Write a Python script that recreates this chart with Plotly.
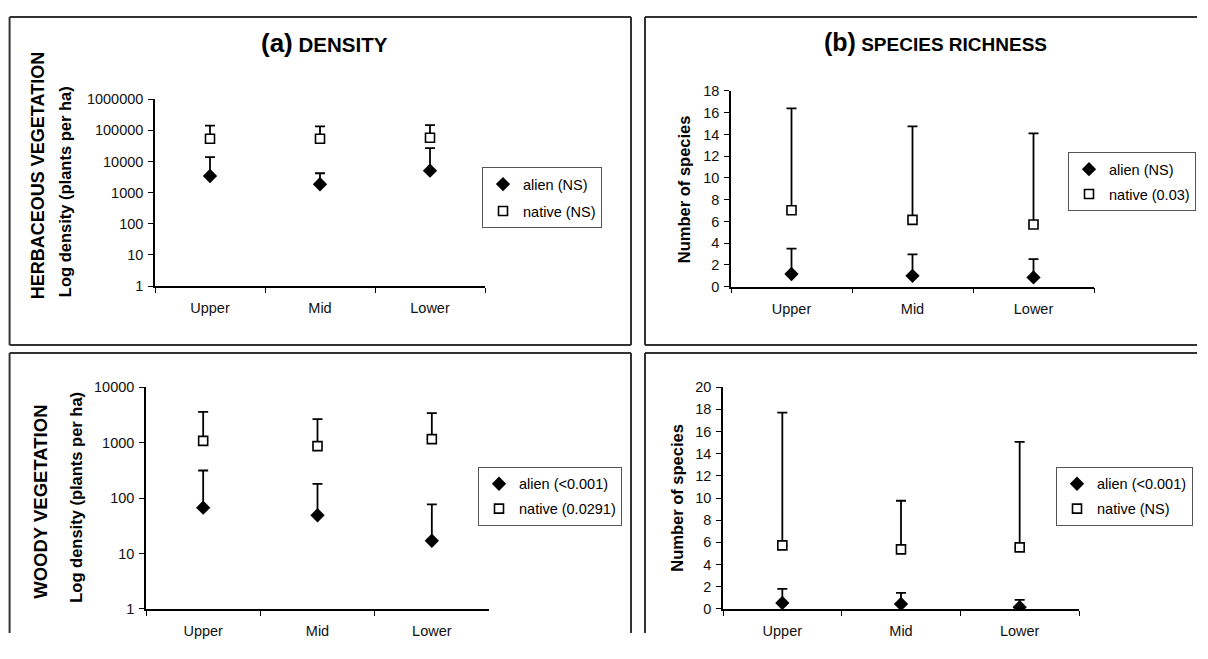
import plotly.graph_objects as go

# Window-pixel placement helpers (empirically calibrated for the capture):
# rendered_x = x_fig + 8 ; rendered_y = SY * (y_fig + 16)
OX, OY, SY = 8, 16, 0.976
W, H = 1190, 634
FONT = "Liberation Sans, Arial, sans-serif"

zones = ["Upper", "Mid", "Lower"]

# (a) Density, herbaceous
herb_den_alien = [3430, 1860, 5100]
herb_den_alien_err = [13800, 4200, 27000]   # upper end of error bar
herb_den_native = [54000, 54000, 58000]
herb_den_native_err = [142000, 134000, 148000]

# (b) Species richness, herbaceous
herb_sr_alien = [1.17, 1.0, 0.86]
herb_sr_alien_err = [3.5, 2.97, 2.54]
herb_sr_native = [7.04, 6.15, 5.73]
herb_sr_native_err = [16.4, 14.75, 14.1]

# (a) Density, woody
wood_den_alien = [67, 49, 17]
wood_den_alien_err = [314, 181, 77]
wood_den_native = [1075, 865, 1157]
wood_den_native_err = [3590, 2650, 3400]

# (b) Species richness, woody
wood_sr_alien = [0.54, 0.45, 0.15]
wood_sr_alien_err = [1.8, 1.44, 0.81]
wood_sr_native = [5.73, 5.37, 5.55]
wood_sr_native_err = [17.7, 9.76, 15.07]

legend_labels = [
    ("alien (NS)", "native (NS)"),
    ("alien (NS)", "native (0.03)"),
    ("alien (<0.001)", "native (0.0291)"),
    ("alien (<0.001)", "native (NS)"),
]

log_ticks = [1, 10, 100, 1000, 10000, 100000, 1000000]
log_ticktext = ["1", "10", "100", "1000", "10000", "100000", "1000000"]


def px(x):
    return (x - OX) / W


def py(y):
    yf = y / SY - OY
    return 1 - yf / H


fig = go.Figure()

panels = [
    (herb_den_alien, herb_den_alien_err, herb_den_native, herb_den_native_err),
    (herb_sr_alien, herb_sr_alien_err, herb_sr_native, herb_sr_native_err),
    (wood_den_alien, wood_den_alien_err, wood_den_native, wood_den_native_err),
    (wood_sr_alien, wood_sr_alien_err, wood_sr_native, wood_sr_native_err),
]

for i, (a, ae, n, ne) in enumerate(panels):
    idx = "" if i == 0 else str(i + 1)
    xa, ya = "x" + idx, "y" + idx
    leg = "legend" + idx
    a_plus = [t - v for t, v in zip(ae, a)]
    n_plus = [t - v for t, v in zip(ne, n)]
    fig.add_trace(go.Scatter(
        x=zones, y=a, mode="markers", name=legend_labels[i][0],
        xaxis=xa, yaxis=ya, legend=leg, legendgroup="a" + idx,
        marker=dict(symbol="diamond", size=11, color="black"),
        error_y=dict(type="data", symmetric=False, array=a_plus,
                     arrayminus=[0, 0, 0], color="black", thickness=1.8, width=5),
    ))
    fig.add_trace(go.Scatter(
        x=zones, y=n, mode="markers", name=legend_labels[i][1],
        xaxis=xa, yaxis=ya, legend=leg, legendgroup="n" + idx,
        marker=dict(symbol="square", size=9, color="white",
                    line=dict(color="black", width=1.6)),
        error_y=dict(type="data", symmetric=False, array=n_plus,
                     arrayminus=[0, 0, 0], color="black", thickness=1.8, width=5),
    ))

axis_common = dict(showline=True, linecolor="black", linewidth=1.5,
                   showgrid=False, zeroline=False, ticks="outside", ticklen=5,
                   tickcolor="black", tickwidth=1.2,
                   tickfont=dict(family=FONT, size=14.5, color="#111"))

# plot-area geometry in window pixels: (x0, x1, ytop, ybottom)
geo = [
    (155, 485, 99, 286),
    (731, 1094, 90.7, 286.7),
    (146, 489, 387.3, 609.3),
    (723, 1079, 387.3, 609.3),
]
yranges = [[0, 6], [0, 18], [0, 4], [0, 20]]

layout = dict(
    width=W, height=H, margin=dict(l=0, r=0, t=0, b=0),
    paper_bgcolor="white", plot_bgcolor="white",
    font=dict(family=FONT, size=14, color="black"),
)

for i, (x0, x1, yt, yb) in enumerate(geo):
    idx = "" if i == 0 else str(i + 1)
    xk, yk = "xaxis" + idx, "yaxis" + idx
    layout[xk] = dict(axis_common, domain=[px(x0), px(x1)], type="category",
                      tickson="boundaries", range=[-0.5, 2.5],
                      anchor="y" + idx, ticklabelstandoff=8)
    if i in (0, 2):
        layout[yk] = dict(axis_common, domain=[py(yb), py(yt)], type="log",
                          range=yranges[i], tickvals=log_ticks[:yranges[i][1] + 1],
                          ticktext=log_ticktext[:yranges[i][1] + 1],
                          anchor="x" + idx, ticklabelstandoff=2)
    else:
        layout[yk] = dict(axis_common, domain=[py(yb), py(yt)], range=yranges[i],
                          dtick=2, tick0=0, anchor="x" + idx, ticklabelstandoff=2)

legend_pos = [(482, 167), (1068, 152), (478, 467), (1056, 467)]
for i, (lx, ly) in enumerate(legend_pos):
    key = "legend" if i == 0 else "legend" + str(i + 1)
    layout[key] = dict(x=px(lx), y=py(ly), xanchor="left", yanchor="top",
                       xref="paper", yref="paper",
                       bordercolor="#555", borderwidth=1, bgcolor="white",
                       font=dict(family=FONT, size=14.5, color="black"),
                       itemwidth=30, tracegroupgap=5 if i == 0 else 3)

fig.update_layout(**layout)

# panel frames as line segments (window pixels), kept inside the figure
R = OX + W - 1
TOP = SY * (OY + 1)          # highest drawable row
BOT = SY * (OY + H - 1)      # lowest drawable row
frame_lines = [
    (9.6, TOP, 631, TOP), (9.6, 345, 631, 345), (9.6, TOP, 9.6, 345), (631, TOP, 631, 345),
    (645, TOP, R, TOP), (645, 345, R, 345), (645, TOP, 645, 345),
    (9.6, 353, 631, 353), (9.6, 353, 9.6, BOT), (631, 353, 631, BOT),
    (645, 353, R, 353), (645, 353, 645, BOT),
]
for (x0, y0, x1, y1) in frame_lines:
    fig.add_shape(type="line", xref="paper", yref="paper",
                  x0=px(x0), x1=px(x1), y0=py(y0), y1=py(y1),
                  line=dict(color="#333", width=2))

ann = []
ann.append(dict(x=px(324), y=py(43), text="<b><span style='font-size:26px'>(a)</span> DENSITY</b>",
                font=dict(size=20.5)))
ann.append(dict(x=px(935), y=py(42), text="<b><span style='font-size:25px'>(b)</span> SPECIES RICHNESS</b>",
                font=dict(size=19)))
ann.append(dict(x=px(38), y=py(176), text="<b>HERBACEOUS VEGETATION</b>",
                textangle=-90, font=dict(size=18)))
ann.append(dict(x=px(65), y=py(192), text="<b>Log density (plants per ha)</b>",
                textangle=-90, font=dict(size=16.5)))
ann.append(dict(x=px(41), y=py(502), text="<b>WOODY VEGETATION</b>",
                textangle=-90, font=dict(size=18.5)))
ann.append(dict(x=px(76), y=py(498), text="<b>Log density (plants per ha)</b>",
                textangle=-90, font=dict(size=16.5)))
ann.append(dict(x=px(684), y=py(189), text="<b>Number of species</b>",
                textangle=-90, font=dict(size=16.5)))
ann.append(dict(x=px(677), y=py(498), text="<b>Number of species</b>",
                textangle=-90, font=dict(size=16.5)))
for a in ann:
    a.update(xref="paper", yref="paper", showarrow=False,
             xanchor="center", yanchor="middle")
    a["font"] = dict(family=FONT, color="black", size=a["font"]["size"])
    fig.add_annotation(**a)

fig.write_html("out.html")
